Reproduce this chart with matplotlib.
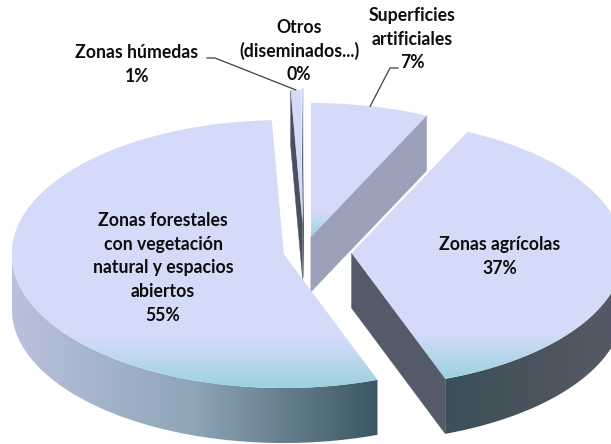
import numpy as np
import matplotlib
matplotlib.use("Agg")
import matplotlib.pyplot as plt
from matplotlib.patches import Polygon
from matplotlib.colors import LinearSegmentedColormap

# ---------------- data ----------------
categories = ["Superficies\nartificiales", "Zonas agrícolas",
              "Zonas forestales\ncon vegetación\nnatural y espacios\nabiertos",
              "Zonas húmedas", "Otros\n(diseminados...)"]
values = [7.0, 37.4, 54.9, 0.6, 0.1]

# ---------------- style / layout ----------------
explode = [0.115, 0.175, 0.076, 0.21, 0.22]
CX, CY = 304.0, 252.0          # pie centre (pixel space)
RX, RY = 272.0, 134.0          # ellipse radii of top face
DEPTH = 55.0                   # wall height
top_cmap = LinearSegmentedColormap.from_list(
    "top", [(0, "#D5DCF9"), (0.82, "#D3DBF8"), (1.0, "#9CD2DF")])
wall_cmaps = [
    LinearSegmentedColormap.from_list("w0", ["#9EA3BC", "#9EA3BC"]),
    LinearSegmentedColormap.from_list("w1", ["#3A5159", "#4A545E", "#585B69"]),
    LinearSegmentedColormap.from_list("w2", ["#BAC1DD", "#8EA5B8", "#3C5760"]),
    LinearSegmentedColormap.from_list("w3", ["#4C5262", "#4C5262"]),
    LinearSegmentedColormap.from_list("w4", ["#4C5262", "#4C5262"]),
]
radial_colors = ["#9CA1BA", "#545A67", "#7F8FA5", "#4A5060", "#4A5060"]
label_x = [412, 500, 163, 137, 299]
label_y0 = [16, 245, 221, 53, 28]     # centre of first line
LINE_STEP = 23.6
leader_elbow = [((398, 68), (390, 68)), None, None, ((207, 58), (215, 58)), None]

FONT = ["Lato", "DejaVu Sans"]
FS = 12.7

fig = plt.figure(figsize=(6.11, 4.44), dpi=100)
ax = fig.add_axes([0, 0, 1, 1])
ax.axis("off")


def rim(cx, cy, th):
    return cx + RX * np.sin(th), cy - RY * np.cos(th)


def fill_gradient(pts, cmap, vertical, z):
    pts = np.asarray(pts)
    x0, x1 = pts[:, 0].min(), pts[:, 0].max()
    y0, y1 = pts[:, 1].min(), pts[:, 1].max()
    poly = Polygon(pts, closed=True, facecolor="none", edgecolor="none", zorder=z)
    ax.add_patch(poly)
    if vertical:
        arr = np.linspace(0, 1, 256).reshape(-1, 1)
    else:
        arr = np.linspace(0, 1, 256).reshape(1, -1)
    im = ax.imshow(arr, cmap=cmap, extent=(x0, x1, y0, y1), origin="lower",
                   aspect="auto", interpolation="bilinear", zorder=z)
    im.set_clip_path(poly)
    return im


total = float(sum(values))
bounds = np.concatenate([[0], np.cumsum(values)]) / total * 2 * np.pi
slices = []
for i, v in enumerate(values):
    a0, a1 = bounds[i], bounds[i + 1]
    mid = 0.5 * (a0 + a1)
    ax_, ay_ = rim(CX, CY, mid)
    apx = CX + explode[i] * (ax_ - CX)
    apy = CY + explode[i] * (ay_ - CY)
    slices.append((i, a0, a1, mid, apx, apy))

# draw back to front
order = sorted(slices, key=lambda s: s[5])
for rank, (i, a0, a1, mid, apx, apy) in enumerate(order):
    z = 10 + rank * 5
    n = max(3, int(np.degrees(a1 - a0)))
    th = np.linspace(a0, a1, n)
    # outer wall (front half only)
    lo, hi = max(a0, np.pi / 2), min(a1, 1.5 * np.pi)
    if hi > lo:
        tw = np.linspace(lo, hi, max(3, int(np.degrees(hi - lo))))
        xs, ys = rim(apx, apy, tw)
        pts = np.column_stack([np.r_[xs, xs[::-1]], np.r_[ys, ys[::-1] + DEPTH]])
        fill_gradient(pts, wall_cmaps[i], False, z)
    # radial walls
    for ang, visible in ((a0, np.sin(a0) < -1e-6), (a1, np.sin(a1) > 1e-6)):
        if visible:
            rx_, ry_ = rim(apx, apy, ang)
            pts = [(apx, apy), (rx_, ry_), (rx_, ry_ + DEPTH), (apx, apy + DEPTH)]
            ax.add_patch(Polygon(pts, closed=True, facecolor=radial_colors[i],
                                 edgecolor=radial_colors[i], lw=0.3, zorder=z + 1))
    # top face
    xs, ys = rim(apx, apy, th)
    pts = np.column_stack([np.r_[apx, xs], np.r_[apy, ys]])
    fill_gradient(pts, top_cmap, True, z + 2)

# labels
for i, (i_, a0, a1, mid, apx, apy) in enumerate(slices):
    lines = categories[i].split("\n") + [f"{values[i]:.0f}%"]
    for k, line in enumerate(lines):
        ax.text(label_x[i], label_y0[i] + k * LINE_STEP + 5.2, line,
                ha="center", va="baseline", fontsize=FS, fontweight="bold",
                family=FONT, color="#0D0D0D", zorder=100)
    if leader_elbow[i] is not None:
        (p0, p1) = leader_elbow[i]
        ex, ey = rim(apx, apy, mid)
        ax.plot([p0[0], p1[0], ex], [p0[1], p1[1], ey], color="#404040",
                lw=0.9, zorder=99)

ax.set_xlim(0, 611)
ax.set_ylim(444, 0)
fig.savefig("out.png", dpi=100, facecolor="white")
